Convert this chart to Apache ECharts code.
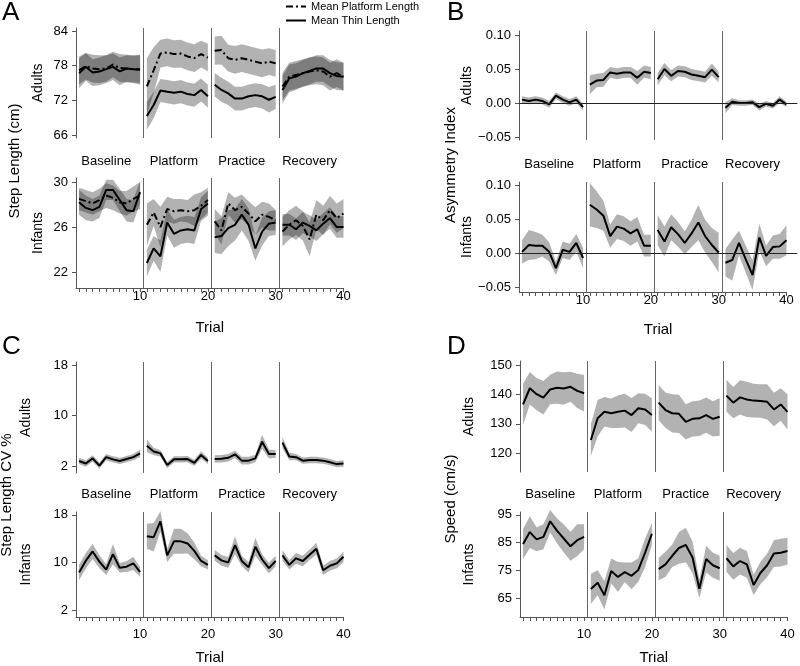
<!DOCTYPE html>
<html><head><meta charset="utf-8">
<script src="https://cdn.jsdelivr.net/npm/echarts@6/dist/echarts.min.js"></script>
<style>html,body{margin:0;padding:0;background:#fff}#c{width:800px;height:666px}</style>
</head><body><div id="c"></div>
<script>
// ---------- data ----------
const trials = [1,2,3,4,5,6,7,8,9,10,11,12,13,14,15,16,17,18,19,20,21,22,23,24,25,26,27,28,29,30,31,32,33,34,35,36,37,38,39,40];
const phaseNames = ['Baseline','Platform','Practice','Recovery'];
const phaseLabelAt = [5,15,25,35];
const phaseBreaks = [10.5,20.5,30.5];
const xTickLabels = [10,20,30,40];

// A: step length (cm)
const aAdultTicks = [66,72,78,84];
const aAdultPlatMean = [77.2,77.9,77.5,77.4,77.5,78.2,77.6,77.5,77.4,77.4, 74.4,77.2,80.1,80.3,80.0,80.1,79.6,79.3,80.0,79.4, 80.6,80.7,79.3,79.0,79.3,79.0,78.7,78.4,78.7,78.4, 74.4,76.1,76.4,76.7,77.0,77.2,77.0,76.1,76.7,76.1];
const aAdultPlatSE   = [2.4,2.3,2.4,2.4,2.3,2.2,2.4,2.4,2.3,2.4, 4.9,4.0,2.4,2.4,2.4,2.4,2.4,2.4,2.3,2.4, 2.45,2.5,2.3,2.4,2.4,2.4,2.4,2.4,2.3,2.3, 2.4,2.4,2.4,2.4,2.4,2.4,2.4,2.4,2.4,2.4];
const aAdultThinMean = [76.7,77.8,76.8,77.0,77.4,77.8,77.0,77.5,77.4,77.3, 69.3,71.2,73.7,73.5,73.3,73.5,73.1,72.9,73.8,72.7, 74.7,73.8,73.2,72.3,72.3,72.7,72.9,72.7,72.1,72.6, 73.8,75.8,76.1,76.7,77.1,77.5,77.5,76.7,76.2,76.1];
const aAdultThinSE   = [2.6,2.4,2.3,2.4,2.4,2.3,2.4,2.3,2.4,2.6, 2.4,2.3,2.0,2.0,2.0,2.0,2.0,2.0,2.0,2.0, 2.05,2.1,2.0,2.05,2.05,2.05,2.05,2.1,2.2,2.1, 2.4,2.4,2.3,2.3,2.3,2.3,2.3,2.3,2.4,2.4];

const aInfTicks = [22,26,30];
const aInfPlatMean = [28.5,28.3,28.1,28.4,28.8,28.6,28.2,28.1,28.5,28.8, 26.2,27.3,26.0,27.6,27.4,27.5,27.4,27.5,27.9,28.4, 26.5,25.7,28.1,27.5,27.8,27.2,26.5,27.1,26.9,26.6, 25.6,26.2,26.6,26.1,24.9,27.1,26.6,27.5,26.8,27.2];
const aInfPlatSE   = [1.0,1.0,1.0,1.0,1.1,1.1,1.0,1.1,1.1,1.2, 1.9,1.2,1.8,1.1,1.1,1.0,1.0,1.4,1.2,1.1, 1.1,1.25,1.0,1.1,1.1,1.1,1.25,1.15,1.2,0.9, 1.3,1.3,1.3,1.3,1.5,1.3,1.3,1.25,1.3,1.3];
const aInfThinMean = [28.2,27.7,27.5,27.8,29.3,29.3,28.4,27.5,27.4,29.1, 22.8,24.1,23.4,26.4,25.4,25.7,25.8,25.7,27.6,28.1, 25.1,25.2,25.9,26.2,27.1,26.2,24.1,25.6,26.3,26.4, 26.2,26.2,25.8,26.4,26.1,25.7,26.3,26.8,26.0,26.0];
const aInfThinSE   = [1.1,1.1,1.0,1.0,0.9,0.9,1.0,1.0,1.0,1.0, 1.2,1.1,1.4,1.15,1.25,1.2,1.2,1.2,1.05,1.1, 1.4,1.6,1.6,1.4,1.4,1.45,1.1,1.25,1.1,1.1, 0.95,0.95,0.95,0.95,0.95,0.95,0.95,0.95,0.95,0.95];

// B: asymmetry index
const bTicks = [-0.05,0,0.05,0.10];
const bAdultMean = [0.005,0.003,0.005,0.003,-0.002,0.011,0.005,0.001,0.005,-0.006, 0.027,0.033,0.034,0.045,0.043,0.045,0.045,0.037,0.046,0.044, 0.035,0.050,0.040,0.047,0.046,0.042,0.040,0.038,0.049,0.038, -0.007,0.002,0.000,0.000,0.001,-0.006,-0.001,-0.004,0.005,-0.002];
const bAdultSE   = [0.005,0.005,0.005,0.005,0.005,0.005,0.005,0.005,0.005,0.005, 0.014,0.010,0.010,0.008,0.008,0.008,0.008,0.010,0.009,0.009, 0.009,0.009,0.008,0.008,0.008,0.008,0.008,0.008,0.009,0.008, 0.008,0.005,0.004,0.004,0.004,0.005,0.004,0.004,0.005,0.004];
const bInfMean = [0.002,0.012,0.011,0.011,0.002,-0.022,0.005,0.002,0.015,-0.007, 0.071,0.064,0.055,0.025,0.039,0.036,0.029,0.035,0.011,0.011, 0.034,0.017,0.038,0.028,0.015,0.029,0.045,0.025,0.012,0.001, -0.014,-0.010,0.015,-0.009,-0.032,0.023,-0.004,0.009,0.010,0.019];
const bInfSE   = [0.017,0.022,0.020,0.016,0.014,0.010,0.012,0.012,0.013,0.015, 0.032,0.027,0.022,0.017,0.018,0.018,0.018,0.018,0.016,0.016, 0.022,0.022,0.019,0.018,0.017,0.020,0.026,0.024,0.025,0.029, 0.020,0.030,0.018,0.020,0.022,0.020,0.015,0.017,0.018,0.022];

// C: step length CV %
const cTicks = [2,10,18];
const cAdultMean = [2.8,2.4,3.2,2.05,3.4,3.05,2.8,3.1,3.4,4.0, 5.2,4.3,4.0,2.15,3.05,3.05,3.1,2.5,3.75,2.8, 3.1,3.15,3.3,3.85,2.85,2.85,3.2,5.85,3.9,3.9, 5.7,3.5,3.4,2.85,2.95,2.95,2.85,2.6,2.3,2.4];
const cAdultSE   = [0.5,0.5,0.5,0.5,0.5,0.5,0.5,0.5,0.5,0.6, 1.0,0.6,0.5,0.5,0.5,0.5,0.5,0.5,0.6,0.5, 0.6,0.6,0.6,0.6,0.6,0.6,0.6,1.1,0.7,0.6, 0.9,0.6,0.5,0.5,0.5,0.5,0.5,0.5,0.5,0.5];
const cInfMean = [8.3,10.3,11.85,10.15,8.8,11.4,9.1,9.3,9.85,8.4, 14.4,14.25,16.9,11.2,13.55,13.55,13.2,11.95,10.25,9.6, 11.2,10.35,10.0,12.9,10.25,9.2,12.65,10.5,9.05,10.25, 11.2,9.6,10.7,10.25,11.3,12.3,8.7,9.45,9.85,10.95];
const cInfSE   = [1.3,1.3,1.25,1.1,0.9,1.7,0.8,0.9,1.1,0.8, 2.1,2.4,1.7,1.1,2.1,2.1,1.7,1.4,0.9,0.8, 0.9,0.9,0.9,1.5,0.9,0.9,1.5,0.9,0.9,0.9, 0.9,0.8,0.9,0.9,0.9,1.0,0.8,0.8,0.8,0.9];

// D: speed (cm/s)
const dAdultTicks = [120,130,140,150];
const dAdultMean = [136.6,142.1,140.1,138.9,141.7,142.3,142.0,142.6,141.2,140.4, 124.5,131.9,134.1,133.6,134.1,134.5,133.0,135.3,134.9,133.0, 137.2,134.7,133.6,133.4,130.7,131.7,131.9,133.0,131.7,132.4, 139.6,137.2,139.0,138.3,137.9,137.8,137.5,134.9,136.6,134.1];
const dAdultSE   = [7.0,5.5,5.5,5.7,5.0,5.5,5.5,5.1,5.8,6.2, 5.4,6.2,5.0,5.0,5.5,5.7,5.8,5.1,5.3,5.7, 6.0,6.0,6.5,6.5,6.0,6.0,6.0,6.0,6.0,6.4, 5.4,5.3,5.8,6.0,5.7,5.7,6.0,5.7,5.5,6.0];
const dInfTicks = [65,75,85,95];
const dInfMean = [84.5,88.8,86.2,87.1,92.7,89.3,86.5,83.7,85.9,87.1, 68.4,70.6,66.1,74.8,72.7,74.4,73.1,75.2,81.4,88.2, 75.5,77.2,80.3,83.1,84.2,79.7,68.4,79.1,76.9,75.8, 79.4,76.5,78.4,77.2,69.8,74.1,76.9,81.1,81.4,82.0];
const dInfSE   = [5.4,5.7,4.3,4.5,4.0,4.5,5.0,5.2,5.7,4.5, 5.4,4.5,5.1,4.5,5.4,3.5,4.8,4.2,5.1,4.0, 4.0,4.5,4.0,5.7,6.2,5.7,3.4,4.8,4.5,4.5, 4.8,4.8,4.8,4.8,3.7,4.0,4.2,4.8,5.0,4.8];

// ---------- styling / layout ----------
const FONT = 'Liberation Sans';
const BAND = 'rgba(0,0,0,0.3)';
const AXIS = '#555';
const SEP = '#666';
const DASHDOT = [7,3,2,3];
const xMin = 0.55;
const segments = [[0,10],[10,20],[20,30],[30,40]];
const fmtB = v => (v < 0 ? '\u2212' : '') + Math.abs(v).toFixed(2);

const panels = [
  {left:76, top:28, width:267.5, height:110, yMin:65.48, yMax:84.52, ticks:aAdultTicks, row:'Adults', rowGap:31, bottom:false, xMax:40,
   bands:[[aAdultPlatMean,aAdultPlatSE],[aAdultThinMean,aAdultThinSE]],
   lines:[{m:aAdultPlatMean,name:'Mean Platform Length',dash:true},{m:aAdultThinMean,name:'Mean Thin Length'}]},
  {left:76, top:178, width:267.5, height:110, yMin:20.58, yMax:30.36, ticks:aInfTicks, row:'Infants', rowGap:31, bottom:true, xMax:40, xlm:2, tGap:32, pm:10,
   bands:[[aInfPlatMean,aInfPlatSE],[aInfThinMean,aInfThinSE]],
   lines:[{m:aInfPlatMean,dash:true},{m:aInfThinMean}]},
  {left:519, top:31, width:278.3, height:109, yMin:-0.0544, yMax:0.1059, ticks:bTicks, fmt:fmtB, row:'Adults', rowGap:43, bottom:false, xMax:41.6, zero:true,
   bands:[[bAdultMean,bAdultSE]], lines:[{m:bAdultMean}]},
  {left:519, top:182, width:278.3, height:110, yMin:-0.0569, yMax:0.1044, ticks:bTicks, fmt:fmtB, row:'Infants', rowGap:43, bottom:true, xMax:41.6, zero:true, ownAxisLine:true, xlm:2, tGap:30, pm:11,
   bands:[[bInfMean,bInfSE]], lines:[{m:bInfMean}]},
  {left:76, top:362, width:267.5, height:111, yMin:0.89, yMax:18.48, ticks:cTicks, row:'Adults', rowGap:43, bottom:false, xMax:40,
   bands:[[cAdultMean,cAdultSE]], lines:[{m:cAdultMean}]},
  {left:76, top:512, width:267.5, height:111, yMin:0.84, yMax:18.48, ticks:cTicks, row:'Infants', rowGap:43, bottom:true, xMax:40, xlm:11, tGap:33, pm:11,
   bands:[[cInfMean,cInfSE]], lines:[{m:cInfMean}]},
  {left:520, top:361, width:267.5, height:111, yMin:113.65, yMax:151.36, ticks:dAdultTicks, row:'Adults', rowGap:44, bottom:false, xMax:40,
   bands:[[dAdultMean,dAdultSE]], lines:[{m:dAdultMean}]},
  {left:520, top:512, width:267.5, height:111, yMin:58.3, yMax:96.02, ticks:dInfTicks, row:'Infants', rowGap:44, bottom:true, xMax:40, xlm:11, tGap:33, pm:11,
   bands:[[dInfMean,dInfSE]], lines:[{m:dInfMean}]}
];

const option = {
  animation:false,
  textStyle:{fontFamily:FONT},
  grid:[], xAxis:[], yAxis:[], series:[],
  legend:{
    data:['Mean Platform Length','Mean Thin Length'],
    left:285, top:1, padding:0, orient:'vertical', itemWidth:20, itemHeight:12, itemGap:3,
    itemStyle:{opacity:0},
    textStyle:{fontSize:11, color:'#000', fontFamily:FONT},
    selectedMode:false
  },
  graphic:[]
};

panels.forEach((p, gi) => {
  option.grid.push({left:p.left, top:p.top, width:p.width, height:p.height});
  const xi = option.xAxis.length;
  option.xAxis.push({
    type:'value', gridIndex:gi, min:xMin, max:p.xMax, position:'bottom',
    axisLine:{show:p.bottom && !p.ownAxisLine, onZero:false, lineStyle:{color:AXIS, width:1}},
    axisTick:{show:p.bottom, length:4, customValues:trials, lineStyle:{color:AXIS, width:1}},
    axisLabel:{show:p.bottom, customValues:xTickLabels, margin:p.xlm || 2, fontSize:13, color:'#000', fontFamily:FONT},
    splitLine:{show:false},
    name:p.bottom ? 'Trial' : '', nameLocation:'middle', nameGap:p.tGap || 30,
    nameTextStyle:{fontSize:15, color:'#000', fontFamily:FONT}
  });
  if (p.bottom) {
    option.xAxis.push({
      type:'value', gridIndex:gi, min:xMin, max:p.xMax, position:'top',
      axisLine:{show:false}, axisTick:{show:false}, splitLine:{show:false},
      axisLabel:{show:true, customValues:phaseLabelAt, margin:p.pm,
        formatter:v => phaseNames[phaseLabelAt.indexOf(v)], fontSize:13, color:'#000', fontFamily:FONT}
    });
  }
  const yi = option.yAxis.length;
  option.yAxis.push({
    type:'value', gridIndex:gi, min:p.yMin, max:p.yMax,
    axisLine:{show:true, onZero:false, lineStyle:{color:AXIS, width:1}},
    axisTick:{show:true, length:4, customValues:p.ticks, lineStyle:{color:AXIS, width:1}},
    axisLabel:{customValues:p.ticks, margin:8, fontSize:13, color:'#000', fontFamily:FONT,
      formatter:p.fmt || (v => String(v))},
    splitLine:{show:false},
    name:p.row, nameLocation:'middle', nameGap:p.rowGap,
    nameTextStyle:{fontSize:14, color:'#000', fontFamily:FONT}
  });

  // bands
  p.bands.forEach(([mean, se]) => {
    option.series.push({
      type:'custom', xAxisIndex:xi, yAxisIndex:yi, clip:false, silent:true, z:1,
      data:segments.map((s,k) => [phaseLabelAt[k], mean[s[0]]]),
      renderItem:(params, api) => {
        const [a,b] = segments[params.dataIndex];
        const up = [], lo = [];
        for (let i = a; i < b; i++) {
          up.push(api.coord([trials[i], mean[i] + se[i]]));
          lo.push(api.coord([trials[i], mean[i] - se[i]]));
        }
        return {type:'polygon', shape:{points:up.concat(lo.reverse())}, style:{fill:BAND}};
      }
    });
  });

  // mean lines, one series per phase segment
  let first = true;
  p.lines.forEach(ln => {
    segments.forEach(([a,b]) => {
      const s = {
        type:'line', name:ln.name || '', xAxisIndex:xi, yAxisIndex:yi, symbol:'none', silent:true, z:3,
        data:trials.slice(a,b).map((t,i) => [t, ln.m[a+i]]),
        lineStyle:{color:'#000', width:2, type:ln.dash ? DASHDOT : 'solid'},
        itemStyle:{color:'#000'}
      };
      if (first) {
        const md = phaseBreaks.map(x => ({xAxis:x, lineStyle:{color:SEP, width:1, type:'solid'}}));
        if (p.zero) md.push({yAxis:0, lineStyle:{color:'#222', width:1, type:'solid'}});
        if (p.ownAxisLine) md.push([{coord:[xMin, p.yMin], lineStyle:{color:AXIS, width:1, type:'solid'}}, {coord:[40, p.yMin]}]);
        s.markLine = {silent:true, symbol:['none','none'], label:{show:false}, data:md};
        first = false;
      }
      option.series.push(s);
    });
  });
});

// panel letters and outer axis titles
const letters = [['A',2,14],['B',447,14],['C',2,348],['D',447,348]];
letters.forEach(([t,x,y]) => option.graphic.push({type:'text', left:x, top:y-14,
  style:{text:t, fontSize:26, fontFamily:FONT, fill:'#000'}}));
const outer = [['Step Length (cm)',15,161],['Asymmetry Index',451,165],['Step Length CV %',7,495],['Speed (cm/s)',451,499]];
outer.forEach(([t,x,y]) => option.graphic.push({type:'text', x:x, y:y, rotation:Math.PI/2,
  style:{text:t, fontSize:15, fontFamily:FONT, fill:'#000', align:'center', verticalAlign:'middle'}}));

const chart = echarts.init(document.getElementById('c'), null, {renderer:'canvas'});
chart.setOption(option);
</script></body></html>
